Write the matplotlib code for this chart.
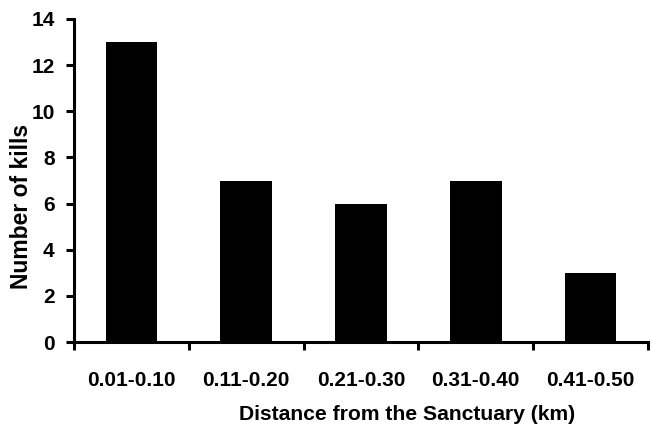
import matplotlib
matplotlib.use("Agg")
import matplotlib.pyplot as plt
from matplotlib import font_manager

categories = ["0.01-0.10", "0.11-0.20", "0.21-0.30", "0.31-0.40", "0.41-0.50"]
kills = [13, 7, 6, 7, 3]
yticks = [0, 2, 4, 6, 8, 10, 12, 14]

names = {f.name for f in font_manager.fontManager.ttflist}
fam = ["Liberation Sans Narrow", "Liberation Sans", "DejaVu Sans"]
fam = [f for f in fam if f in names] or ["DejaVu Sans"]
plt.rcParams["font.family"] = fam
plt.rcParams["font.weight"] = "bold"

W, H = 651, 434
fig = plt.figure(figsize=(W / 100, H / 100), dpi=100)
ax = fig.add_axes([74 / W, 1 - 342 / H, (648 - 74) / W, (342 - 19) / H])
x = list(range(len(categories)))
ax.bar(x, kills, width=0.45, color="black")
ax.set_ylim(0, 14)
ax.set_xlim(-0.5, len(categories) - 0.5)
ax.set_yticks(yticks)
ax.set_yticklabels([str(v) for v in yticks], fontsize=15, fontweight="bold")
ax.set_xticks([i - 0.5 for i in range(len(categories) + 1)])
ax.set_xticklabels([])
for i, c in enumerate(categories):
    ax.annotate(c, xy=(i, 0), xycoords="data", xytext=(0, -38), textcoords="offset pixels",
                ha="center", va="center", fontsize=15, fontweight="bold")
fig.text(407 / W, 1 - 414 / H, "Distance from the Sanctuary (km)", ha="center", va="center",
         fontsize=15.2, fontweight="bold")
fig.text(22 / W, 1 - 206 / H, "Number of kills", ha="center", va="center", rotation=90,
         fontsize=16.5, fontweight="bold")
for s in ["top", "right"]:
    ax.spines[s].set_visible(False)
for s in ["left", "bottom"]:
    ax.spines[s].set_linewidth(2.2)
ax.tick_params(axis="both", width=2.2, length=5.5, direction="out")
ax.tick_params(axis="y", pad=8.5)
fig.savefig("out.png", dpi=100, facecolor="white")
